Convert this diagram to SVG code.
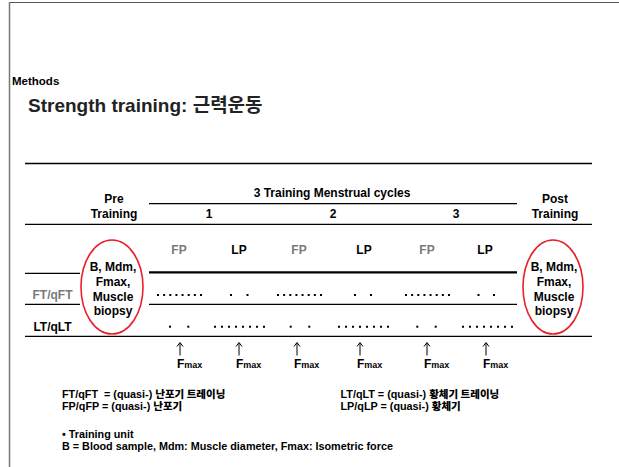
<svg xmlns="http://www.w3.org/2000/svg" width="619" height="467" viewBox="0 0 619 467">
<style>
text{font-family:"Liberation Sans","Noto Sans CJK KR",Arial,sans-serif;font-weight:bold;fill:#000}
.t12{font-size:12px}
.c{text-anchor:middle}
.g{fill:#7a7a7a}
.rule{stroke:#000;stroke-width:1.3;fill:none}
.thick{stroke:#000;stroke-width:2.2;fill:none}
.ell{fill:none;stroke:#e8202a;stroke-width:1.6}
.dft{stroke:#000;stroke-width:2;stroke-dasharray:2 4.14}
.dlt{stroke:#000;stroke-width:2;stroke-dasharray:2 5}
.dp{fill:#000}
.arr{stroke:#000;stroke-width:1;fill:none}
.note{font-size:10.8px}
.kr{font-family:"Noto Sans CJK KR","Liberation Sans",sans-serif;font-weight:900;font-size:10.5px}
</style>
<rect width="619" height="467" fill="#fff"/>
<g id="frame">
<line x1="9" y1="2.5" x2="619" y2="2.5" stroke="#555" stroke-width="1.2"/>
<line x1="9.5" y1="2" x2="9.5" y2="467" stroke="#777" stroke-width="1.5"/>
</g>
<g id="title">
<text x="12" y="85" style="font-size:11.5px">Methods</text>
<text x="28" y="112" style="font-size:19px;fill:#222">Strength training: 근력운동</text>
</g>
<g id="connectors">
<line class="rule" x1="25" y1="163.5" x2="592" y2="163.5"/>
<line class="rule" x1="149" y1="203.7" x2="517" y2="203.7"/>
<line class="rule" x1="25" y1="224.3" x2="592" y2="224.3"/>
<line class="rule" x1="25" y1="273.3" x2="80" y2="273.3"/>
<line class="thick" x1="149" y1="272.3" x2="517" y2="272.3"/>
<line class="rule" x1="25" y1="304.3" x2="80" y2="304.3"/>
<line class="rule" x1="149" y1="304.3" x2="517" y2="304.3"/>
<line class="rule" x1="25" y1="336.3" x2="592" y2="336.3"/>
</g>
<g id="header">
<text class="t12 c" x="332" y="197">3 Training Menstrual cycles</text>
<text class="t12 c" x="114" y="203">Pre</text>
<text class="t12 c" x="114" y="218">Training</text>
<text class="t12 c" x="555" y="203">Post</text>
<text class="t12 c" x="555" y="218">Training</text>
<text class="t12 c" x="209" y="218">1</text>
<text class="t12 c" x="333" y="218">2</text>
<text class="t12 c" x="456" y="218">3</text>
</g>
<g id="phases">
<text class="t12 c g" x="179" y="254">FP</text>
<text class="t12 c" x="239" y="254">LP</text>
<text class="t12 c g" x="299" y="254">FP</text>
<text class="t12 c" x="364" y="254">LP</text>
<text class="t12 c g" x="427" y="254">FP</text>
<text class="t12 c" x="485" y="254">LP</text>
</g>
<g id="rowlabels">
<text class="t12 c g" x="52.5" y="299">FT/qFT</text>
<text class="t12 c" x="52.5" y="331">LT/qLT</text>
</g>
<g id="pre">
<ellipse class="ell" cx="112" cy="287" rx="31" ry="47"/>
<text class="t12 c" x="113" y="271">B, Mdm,</text>
<text class="t12 c" x="113" y="286">Fmax,</text>
<text class="t12 c" x="113" y="300.5">Muscle</text>
<text class="t12 c" x="113" y="315">biopsy</text>
</g>
<g id="post">
<ellipse class="ell" cx="553" cy="287" rx="30" ry="47"/>
<text class="t12 c" x="554" y="271">B, Mdm,</text>
<text class="t12 c" x="554" y="286">Fmax,</text>
<text class="t12 c" x="554" y="300.5">Muscle</text>
<text class="t12 c" x="554" y="315">biopsy</text>
</g>
<g id="ft-units">
<line class="dft" x1="157" y1="295" x2="202" y2="295"/>
<rect class="dp" x="230" y="294" width="2" height="2"/>
<rect class="dp" x="246.5" y="294" width="2" height="2"/>
<line class="dft" x1="277" y1="295" x2="322" y2="295"/>
<rect class="dp" x="354" y="294" width="2" height="2"/>
<rect class="dp" x="370" y="294" width="2" height="2"/>
<line class="dft" x1="405" y1="295" x2="450" y2="295"/>
<rect class="dp" x="477.5" y="294" width="2" height="2"/>
<rect class="dp" x="493" y="294" width="2" height="2"/>
</g>
<g id="lt-units">
<rect class="dp" x="169" y="325.7" width="2" height="2"/>
<rect class="dp" x="187.3" y="325.7" width="2" height="2"/>
<line class="dlt" x1="214" y1="326.7" x2="265" y2="326.7"/>
<rect class="dp" x="289.7" y="325.7" width="2" height="2"/>
<rect class="dp" x="308.3" y="325.7" width="2" height="2"/>
<line class="dlt" x1="338" y1="326.7" x2="389" y2="326.7"/>
<rect class="dp" x="416.3" y="325.7" width="2" height="2"/>
<rect class="dp" x="434.7" y="325.7" width="2" height="2"/>
<line class="dlt" x1="462" y1="326.7" x2="513" y2="326.7"/>
</g>
<g id="fmax">
<path class="arr" d="M180,355.5V343M177,346.5L180,342.5L183,346.5"/>
<path class="arr" d="M239,355.5V343M236,346.5L239,342.5L242,346.5"/>
<path class="arr" d="M297,355.5V343M294,346.5L297,342.5L300,346.5"/>
<path class="arr" d="M360,355.5V343M357,346.5L360,342.5L363,346.5"/>
<path class="arr" d="M427,355.5V343M424,346.5L427,342.5L430,346.5"/>
<path class="arr" d="M486,355.5V343M483,346.5L486,342.5L489,346.5"/>
<text class="t12" x="177" y="368">F<tspan style="font-size:9px">max</tspan></text>
<text class="t12" x="236" y="368">F<tspan style="font-size:9px">max</tspan></text>
<text class="t12" x="294" y="368">F<tspan style="font-size:9px">max</tspan></text>
<text class="t12" x="357" y="368">F<tspan style="font-size:9px">max</tspan></text>
<text class="t12" x="424" y="368">F<tspan style="font-size:9px">max</tspan></text>
<text class="t12" x="483" y="368">F<tspan style="font-size:9px">max</tspan></text>
</g>
<g id="legend">
<text class="note" x="62" y="397.5" xml:space="preserve">FT/qFT  = (quasi-) <tspan class="kr">난포기 트레이닝</tspan></text>
<text class="note" x="62" y="409.5">FP/qFP = (quasi-) <tspan class="kr">난포기</tspan></text>
<text class="note" x="340.5" y="397.5">LT/qLT = (quasi-) <tspan class="kr">황체기 트레이닝</tspan></text>
<text class="note" x="340.5" y="409.5">LP/qLP = (quasi-) <tspan class="kr">황체기</tspan></text>
<text class="note" x="62" y="437.5">• Training unit</text>
<text class="note" x="62" y="449.5">B = Blood sample, Mdm: Muscle diameter, Fmax: Isometric force</text>
</g>
</svg>
